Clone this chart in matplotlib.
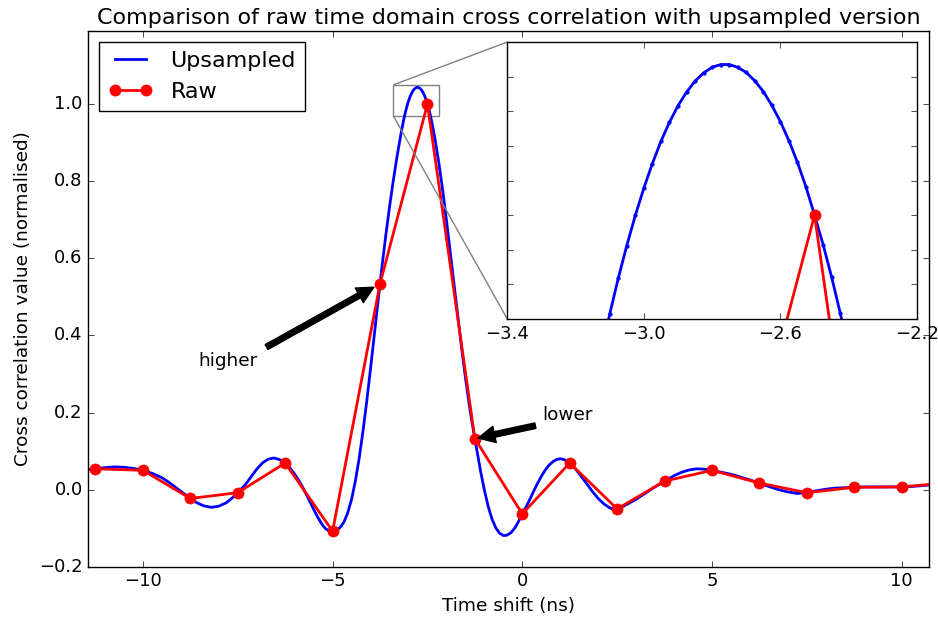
import numpy as np
import matplotlib
matplotlib.use("Agg")
import matplotlib.pyplot as plt
from mpl_toolkits.axes_grid1.inset_locator import mark_inset

plt.style.use("classic")
plt.rcParams["xtick.labelsize"] = 13
plt.rcParams["ytick.labelsize"] = 13
plt.rcParams["axes.labelsize"] = 13.3
plt.rcParams["axes.titlesize"] = 16
plt.rcParams["legend.fontsize"] = 16

# Raw cross-correlation samples (1.25 ns spacing)
t_raw = [-11.25, -10.0, -8.75, -7.5, -6.25, -5.0, -3.75, -2.5, -1.25, 0.0,
         1.25, 2.5, 3.75, 5.0, 6.25, 7.5, 8.75, 10.0, 11.25]
xcorr_raw = [0.054, 0.050, -0.023, -0.008, 0.069, -0.108, 0.534, 1.000, 0.132, -0.063,
             0.069, -0.050, 0.022, 0.050, 0.017, -0.008, 0.006, 0.007, 0.018]

# Upsampled cross-correlation
t_up = [
    -11.44, -11.25, -11.00, -10.75, -10.50, -10.25, -10.00, -9.75, -9.50, -9.30,
    -9.10, -8.90, -8.75, -8.60, -8.40, -8.20, -8.00, -7.80, -7.65, -7.50,
    -7.30, -7.15, -7.00, -6.85, -6.70, -6.55, -6.40, -6.25, -6.10, -6.00,
    -5.90, -5.80, -5.70, -5.60, -5.50, -5.40, -5.30, -5.20, -5.10, -5.04,
    -5.00, -4.90, -4.80, -4.70, -4.60, -4.50, -4.40, -4.30, -4.20, -4.10,
    -4.00, -3.90, -3.80, -3.75, -3.70, -3.60, -3.50, -3.40, -3.30, -3.20,
    -3.150, -3.125, -3.100, -3.075, -3.050, -3.025, -3.000, -2.975, -2.950, -2.925,
    -2.900, -2.875, -2.850, -2.825, -2.800, -2.775, -2.750, -2.725, -2.700, -2.675,
    -2.650, -2.625, -2.600, -2.575, -2.550, -2.525, -2.500, -2.475, -2.450, -2.425,
    -2.400, -2.375, -2.30, -2.20, -2.10, -2.00, -1.90, -1.80, -1.70, -1.60,
    -1.50, -1.40, -1.30, -1.25, -1.20, -1.10, -1.00, -0.90, -0.80, -0.70,
    -0.60, -0.50, -0.45, -0.40, -0.30, -0.20, -0.10, 0.00, 0.10, 0.20,
    0.30, 0.40, 0.50, 0.60, 0.70, 0.80, 0.90, 1.00, 1.10, 1.25,
    1.40, 1.55, 1.70, 1.85, 2.00, 2.15, 2.30, 2.40, 2.50, 2.65,
    2.80, 3.00, 3.20, 3.45, 3.60, 3.75, 4.00, 4.20, 4.40, 4.60,
    4.80, 5.00, 5.20, 5.40, 5.60, 5.80, 6.00, 6.25, 6.50, 6.75,
    7.00, 7.25, 7.50, 7.75, 8.00, 8.25, 8.50, 8.75, 9.00, 9.50,
    10.00, 10.25, 10.50, 10.71,
]
xcorr_up = [
    0.052, 0.054, 0.057, 0.059, 0.058, 0.055, 0.050, 0.042, 0.031, 0.018,
    0.003, -0.012, -0.023, -0.033, -0.042, -0.046, -0.043, -0.034, -0.022, -0.008,
    0.013, 0.033, 0.053, 0.069, 0.079, 0.082, 0.078, 0.069, 0.053, 0.040,
    0.025, 0.008, -0.011, -0.031, -0.051, -0.070, -0.087, -0.100, -0.107, -0.109,
    -0.108, -0.106, -0.098, -0.084, -0.060, -0.025, 0.022, 0.081, 0.151, 0.229,
    0.314, 0.403, 0.492, 0.534, 0.577, 0.658, 0.733, 0.802, 0.865, 0.922,
    0.9485, 0.9603, 0.9714, 0.9817, 0.9912, 0.9999, 1.0078, 1.0149, 1.0213, 1.0268,
    1.0316, 1.0355, 1.0387, 1.0411, 1.0427, 1.0435, 1.0435, 1.0427, 1.0412, 1.0388,
    1.0357, 1.0317, 1.0270, 1.0215, 1.0152, 1.0081, 1.0000, 0.9915, 0.9821, 0.9718,
    0.9608, 0.949, 0.909, 0.848, 0.778, 0.700, 0.618, 0.534, 0.450, 0.368,
    0.291, 0.221, 0.160, 0.132, 0.103, 0.048, -0.001, -0.043, -0.076, -0.099,
    -0.113, -0.119, -0.119, -0.118, -0.112, -0.100, -0.083, -0.063, -0.045, -0.025,
    -0.004, 0.016, 0.034, 0.050, 0.063, 0.072, 0.078, 0.080, 0.078, 0.069,
    0.054, 0.035, 0.015, -0.005, -0.023, -0.037, -0.047, -0.052, -0.050, -0.044,
    -0.036, -0.025, -0.012, 0.004, 0.013, 0.022, 0.036, 0.045, 0.051, 0.054,
    0.053, 0.050, 0.046, 0.042, 0.037, 0.031, 0.025, 0.017, 0.008, 0.000,
    -0.006, -0.010, -0.008, -0.003, 0.001, 0.004, 0.005, 0.006, 0.007, 0.007,
    0.007, 0.008, 0.010, 0.012,
]

fig = plt.figure(figsize=(9.38, 6.19), dpi=100)

ax = fig.add_axes([0.0941, 0.0845, 0.8959, 0.8655])
ax.plot(t_up, xcorr_up, "b-", lw=2, label="Upsampled")
ax.plot(t_raw, xcorr_raw, "ro-", lw=2, ms=8, mec="r", label="Raw")
ax.set_xlim(-11.44, 10.71)
ax.set_ylim(-0.2, 1.19)
ax.set_xlabel("Time shift (ns)")
ax.set_ylabel("Cross correlation value (normalised)")
ax.set_title("Comparison of raw time domain cross correlation with upsampled version")
ax.legend(loc="upper left")

ax.annotate("higher", xy=(t_raw[6], xcorr_raw[6]), xytext=(-8.55, 0.32), fontsize=13.3,
            arrowprops=dict(facecolor="black", shrink=0.05))
ax.annotate("lower", xy=(t_raw[8], xcorr_raw[8]), xytext=(0.52, 0.18), fontsize=13.3,
            arrowprops=dict(facecolor="black", shrink=0.05))

# Zoomed view of the main lobe peak
axins = fig.add_axes([0.5408, 0.4847, 0.4368, 0.4474])
axins.plot(t_up, xcorr_up, "b.-", lw=2, ms=5)
axins.plot(t_raw, xcorr_raw, "ro-", lw=2, ms=8, mec="r")
axins.set_xlim(-3.4, -2.2)
axins.set_ylim(0.97, 1.05)
axins.set_xticks([-3.4, -3.0, -2.6, -2.2])
axins.set_yticks(np.arange(0.98, 1.045, 0.01))
axins.set_yticklabels([])
mark_inset(ax, axins, loc1=2, loc2=3, fc="none", ec="0.5")

fig.savefig("out.png", dpi=100)
